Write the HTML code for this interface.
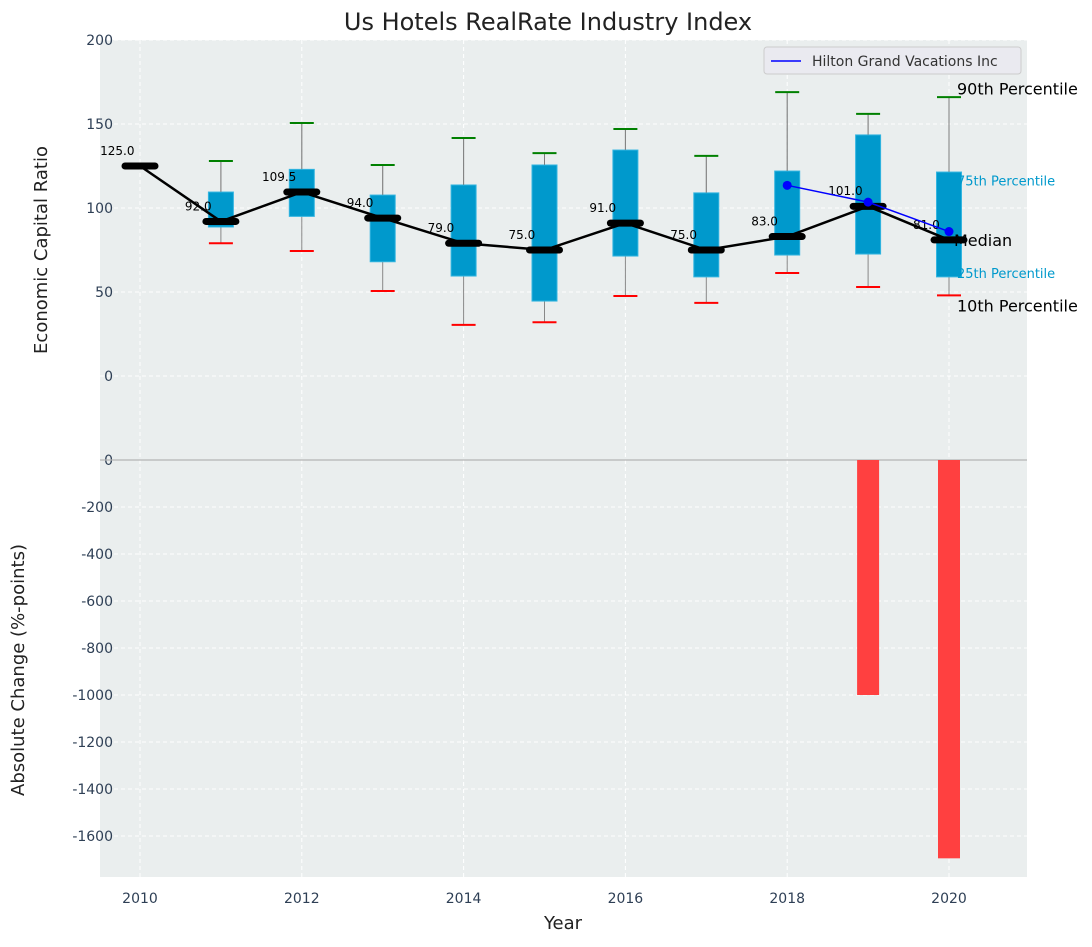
<!DOCTYPE html>
<html><head><meta charset="utf-8"><style>
body{margin:0;background:#fff;}
svg{font-family:"DejaVu Sans","Liberation Sans",sans-serif;}
</style></head><body>
<svg id="chart" width="1092" height="942" xmlns="http://www.w3.org/2000/svg">
<rect x="0" y="0" width="1092" height="942" fill="#fff"/>
<g id="g"></g>
</svg>
<script>
const years=[2010,2011,2012,2013,2014,2015,2016,2017,2018,2019,2020];
const medians=[125,92,109.5,94,79,75,91,75,83,101,81];
const q1=[125,88.7,95,68,59.5,44.6,71.4,59,72,72.6,59];
const q3=[125,109.5,123,107.7,113.7,125.6,134.5,109,122,143.5,121.4];
const p10=[null,79,74.4,50.6,30.4,32,47.6,43.5,61.3,53,48];
const p90=[null,128,150.6,125.6,141.7,132.7,147,131,169,156,166];
const hiltonYears=[2018,2019,2020];
const hiltonVals=[113.5,103.5,86];
const barYears=[2019,2020];
const barVals=[-1000,-1695];
const topTicks=[0,50,100,150,200];
const botTicks=[0,-200,-400,-600,-800,-1000,-1200,-1400,-1600];
const xTicks=[2010,2012,2014,2016,2018,2020];

const NS="http://www.w3.org/2000/svg";
const g=document.getElementById('g');
function el(t,a,txt){const e=document.createElementNS(NS,t);for(const k in a)e.setAttribute(k,a[k]);if(txt!==undefined)e.textContent=txt;g.appendChild(e);return e;}
const L=100,R=1027;
const X=v=>140+(v-2010)*80.9;
const YT=v=>376-v*1.68;
const YB2=v=>460-v*0.235;

let e;
e=el('rect',{x:L,y:40,width:R-L,height:420,fill:'#eaeeee'});


e=el('rect',{x:L,y:460,width:R-L,height:417,fill:'#eaeeee'});


topTicks.forEach(t=>{e=el('line',{x1:L,x2:R,y1:YT(t),y2:YT(t),stroke:'#fff','stroke-dasharray':'4,3','stroke-width':1});


e=el('text',{x:113,y:YT(t)+5,'text-anchor':'end','font-size':14,fill:'#2e3f55'},t);

});
botTicks.forEach(t=>{if(t!==0){e=el('line',{x1:L,x2:R,y1:YB2(t),y2:YB2(t),stroke:'#fff','stroke-dasharray':'4,3','stroke-width':1});

}
e=el('text',{x:113,y:YB2(t)+5,'text-anchor':'end','font-size':14,fill:'#2e3f55'},t);

});
xTicks.forEach(t=>{
[[40,460],[460,877]].forEach(r=>{e=el('line',{x1:X(t),x2:X(t),y1:r[0],y2:r[1],stroke:'#fff','stroke-dasharray':'4,3'});

});
e=el('text',{x:X(t),y:903,'text-anchor':'middle','font-size':14,fill:'#2e3f55'},t);

});
e=el('line',{x1:L,x2:R,y1:460,y2:460,stroke:'#b5b5b5','stroke-width':1.2});


barYears.forEach((y,i)=>{e=el('rect',{x:X(y)-11,y:460,width:22,height:YB2(barVals[i])-460,fill:'#ff4040'});

});
// boxes
years.forEach((y,i)=>{const x=X(y);
if(p10[i]!==null){e=el('line',{x1:x,x2:x,y1:YT(p90[i]),y2:YT(p10[i]),stroke:'#888','stroke-width':1});

}
if(q3[i]>q1[i]){e=el('rect',{x:x-12.5,y:YT(q3[i]),width:25,height:YT(q1[i])-YT(q3[i]),fill:'#0099cc',stroke:'#33b5e0','stroke-width':1});

}
if(p10[i]!==null){e=el('line',{x1:x,x2:x,y1:YT(p90[i]),y2:YT(q3[i]),stroke:'#777','stroke-width':1,'stroke-opacity':0.6});
e=el('line',{x1:x-12,x2:x+12,y1:YT(p90[i]),y2:YT(p90[i]),stroke:'#008000','stroke-width':2});


e=el('line',{x1:x-12,x2:x+12,y1:YT(p10[i]),y2:YT(p10[i]),stroke:'#ff0000','stroke-width':2});

}
});
// labels
years.forEach((y,i)=>{e=el('text',{x:X(y)-0.28*80.9,y:YT(medians[i]+9)+4,'text-anchor':'middle','font-size':12,fill:'#000'},medians[i].toFixed(1));

});
e=el('polyline',{points:years.map((y,i)=>X(y)+','+YT(medians[i])).join(' '),fill:'none',stroke:'#000','stroke-width':2.5});


years.forEach((y,i)=>{e=el('line',{x1:X(y)-15,x2:X(y)+15,y1:YT(medians[i]),y2:YT(medians[i]),stroke:'#000','stroke-width':7,'stroke-linecap':'round'});

});
e=el('polyline',{points:hiltonYears.map((y,i)=>X(y)+','+YT(hiltonVals[i])).join(' '),fill:'none',stroke:'#0000ff','stroke-width':1.5});


hiltonYears.forEach((y,i)=>{e=el('circle',{cx:X(y),cy:YT(hiltonVals[i]),r:4.5,fill:'#0000ff'});

});
const lx=X(2020)+8;
[[YT(171),'90th Percentile',16,'#000'],[YT(117),'75th Percentile',13,'#0099cc'],[YT(81),'Median',16,'#000'],[YT(62),'25th Percentile',13,'#0099cc'],[YT(42),'10th Percentile',16,'#000']].forEach(a=>{
e=el('text',{x:a[1]==='Median'?lx-3:lx,y:a[0]+6,'font-size':a[2],fill:a[3]},a[1]);

});
e=el('rect',{x:764,y:47,width:257,height:27,rx:3,fill:'#eaeaf0',stroke:'#ccc'});


el('line',{x1:771,x2:801,y1:61,y2:61,stroke:'#0000ff','stroke-width':1.5});
e=el('text',{x:812,y:66,'font-size':14,fill:'#333'},'Hilton Grand Vacations Inc');


e=el('text',{x:548,y:30,'text-anchor':'middle','font-size':24,fill:'#222'},'Us Hotels RealRate Industry Index');


e=el('text',{x:563,y:929,'text-anchor':'middle','font-size':18,fill:'#222'},'Year');


e=el('text',{x:47,y:250,'text-anchor':'middle','font-size':18,fill:'#222',transform:'rotate(-90 47 250)'},'Economic Capital Ratio');


e=el('text',{x:24,y:670,'text-anchor':'middle','font-size':18,fill:'#222',transform:'rotate(-90 24 670)'},'Absolute Change (%-points)');


</script>
</body></html>
